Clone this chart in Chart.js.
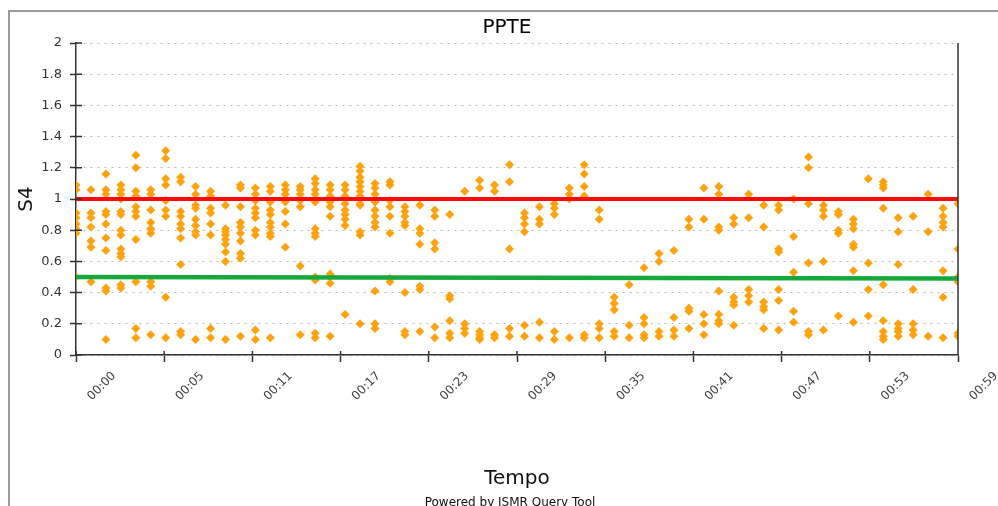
<!DOCTYPE html>
<html lang="pt">
<head>
    <meta charset="UTF-8">
    <title>PPTE - S4</title>
    <script src="https://cdn.jsdelivr.net/npm/chart.js"></script>
    <style>
        body {
            margin: 0;
            background: #fff;
            font-family: "DejaVu Sans", sans-serif;
        }

        .wrap {
            position: relative;
            width: 998px;
            height: 506px;
            overflow: hidden;
        }

        /* grey frame round the chart, cut by the window on the right and bottom */
        .frame {
            position: absolute;
            left: 8px;
            top: 10px;
            width: 1100px;
            height: 600px;
            border-top: 2px solid #9a9a9a;
            border-left: 2px solid #9a9a9a;
        }

        .title {
            position: absolute;
            top: 14px;
            left: 0;
            width: 1014px;
            text-align: center;
            font-size: 20px;
            color: #000;
        }

        .powered {
            position: absolute;
            top: 495px;
            left: 0;
            width: 1020px;
            text-align: center;
            font-size: 12px;
            color: #111;
        }

        canvas {
            position: absolute;
            left: 0;
            top: 0;
        }
    </style>
</head>
<body>
    <div class="wrap">
        <div class="frame"></div>
        <canvas id="s4Chart" width="998" height="506"></canvas>
        <div class="title">PPTE</div>
        <div class="powered">Powered by ISMR Query Tool</div>
    </div>

    <script>
        // x tick labels (hh:mm)
        const tickLabels = ['00:00', '00:05', '00:11', '00:17', '00:23', '00:29', '00:35', '00:41', '00:47', '00:53', '00:59'];
        const tickStep = 5.9; // minutes between labels

        // S4 readings, one list per minute (index = minute)
        const s4PerMinute = [
            [1.09, 1.06, 0.91, 0.88, 0.84, 0.81, 0.78, 0.5],
            [1.06, 0.91, 0.88, 0.82, 0.73, 0.69, 0.47],
            [1.16, 1.06, 1.03, 0.92, 0.9, 0.84, 0.75, 0.67, 0.43, 0.41, 0.1],
            [1.09, 1.06, 1.03, 1.0, 0.92, 0.9, 0.8, 0.77, 0.68, 0.65, 0.63, 0.45, 0.43],
            [1.28, 1.2, 1.05, 1.02, 0.95, 0.92, 0.89, 0.74, 0.47, 0.17, 0.11],
            [1.06, 1.03, 0.93, 0.85, 0.81, 0.78, 0.47, 0.44, 0.13],
            [1.31, 1.26, 1.13, 1.09, 0.99, 0.93, 0.89, 0.37, 0.11],
            [1.14, 1.11, 0.92, 0.89, 0.84, 0.81, 0.75, 0.58, 0.15, 0.13],
            [1.08, 1.03, 0.96, 0.94, 0.87, 0.83, 0.79, 0.77, 0.1],
            [1.05, 1.02, 0.94, 0.91, 0.84, 0.77, 0.17, 0.11],
            [0.96, 0.81, 0.79, 0.77, 0.74, 0.71, 0.66, 0.6, 0.1],
            [1.09, 1.07, 0.95, 0.85, 0.82, 0.78, 0.73, 0.65, 0.62, 0.12],
            [1.07, 1.03, 0.99, 0.94, 0.91, 0.88, 0.8, 0.77, 0.16, 0.1],
            [1.08, 1.05, 0.98, 0.93, 0.9, 0.85, 0.82, 0.78, 0.76, 0.11],
            [1.09, 1.06, 1.03, 0.98, 0.92, 0.84, 0.69],
            [1.08, 1.06, 1.03, 0.99, 0.95, 0.57, 0.13],
            [1.13, 1.1, 1.06, 1.03, 0.98, 0.81, 0.78, 0.76, 0.5, 0.48, 0.14, 0.11],
            [1.09, 1.06, 1.02, 0.98, 0.95, 0.89, 0.52, 0.5, 0.46, 0.12],
            [1.09, 1.06, 1.02, 0.97, 0.93, 0.9, 0.87, 0.83, 0.26],
            [1.21, 1.18, 1.14, 1.11, 1.08, 1.05, 1.02, 0.97, 0.96, 0.79, 0.77, 0.2],
            [1.1, 1.07, 1.03, 0.98, 0.93, 0.89, 0.85, 0.82, 0.41, 0.2, 0.17],
            [1.11, 1.09, 0.99, 0.95, 0.89, 0.78, 0.49, 0.47],
            [0.95, 0.92, 0.89, 0.85, 0.83, 0.4, 0.15, 0.13],
            [0.96, 0.81, 0.78, 0.71, 0.44, 0.42, 0.15],
            [0.93, 0.89, 0.72, 0.68, 0.18, 0.11],
            [0.9, 0.38, 0.36, 0.22, 0.14, 0.11],
            [1.05, 0.2, 0.17, 0.14],
            [1.12, 1.07, 0.15, 0.13, 0.11, 0.1],
            [1.09, 1.05, 0.13, 0.11],
            [1.22, 1.11, 0.68, 0.17, 0.12],
            [0.91, 0.88, 0.84, 0.79, 0.19, 0.12],
            [0.95, 0.87, 0.84, 0.21, 0.11],
            [0.97, 0.94, 0.9, 0.15, 0.1],
            [1.07, 1.03, 1.0, 0.11],
            [1.22, 1.16, 1.08, 1.02, 0.13, 0.11],
            [0.93, 0.87, 0.2, 0.17, 0.11],
            [0.37, 0.33, 0.29, 0.15, 0.12],
            [0.45, 0.19, 0.11],
            [0.56, 0.24, 0.2, 0.13, 0.11],
            [0.65, 0.6, 0.15, 0.12],
            [0.67, 0.24, 0.16, 0.12],
            [0.87, 0.82, 0.3, 0.28, 0.17],
            [1.07, 0.87, 0.26, 0.2, 0.13],
            [1.08, 1.03, 0.82, 0.8, 0.41, 0.26, 0.22, 0.2],
            [0.88, 0.84, 0.37, 0.34, 0.32, 0.19],
            [1.03, 0.88, 0.42, 0.38, 0.34],
            [0.96, 0.82, 0.34, 0.31, 0.29, 0.17],
            [0.96, 0.93, 0.68, 0.66, 0.42, 0.35, 0.16],
            [1.0, 0.76, 0.53, 0.28, 0.21],
            [1.27, 1.2, 0.97, 0.59, 0.15, 0.13],
            [0.96, 0.93, 0.89, 0.6, 0.16],
            [0.92, 0.9, 0.8, 0.78, 0.25],
            [0.87, 0.84, 0.81, 0.71, 0.69, 0.54, 0.21],
            [1.13, 0.59, 0.42, 0.25],
            [1.11, 1.09, 1.07, 0.94, 0.45, 0.22, 0.15, 0.12, 0.1],
            [0.88, 0.79, 0.58, 0.2, 0.17, 0.15, 0.12],
            [0.89, 0.42, 0.2, 0.16, 0.13],
            [1.03, 0.79, 0.12],
            [0.94, 0.89, 0.85, 0.82, 0.54, 0.37, 0.11],
            [0.97, 0.68, 0.5, 0.47, 0.14, 0.12]
        ];

        // reference lines, start and end of the hour
        const redLine = [1.0, 1.0];
        const greenLine = [0.5, 0.49];
        const lastMinute = 59;

        const scatterPoints = [];
        s4PerMinute.forEach((vals, minute) => {
            vals.forEach(v => scatterPoints.push({ x: minute, y: v }));
        });

        // right border of the plot + inner half of the tick marks
        const axisExtras = {
            id: 'axisExtras',
            afterDraw(chart) {
                const { ctx, chartArea, scales } = chart;
                ctx.save();
                ctx.strokeStyle = '#333';
                ctx.lineWidth = 1.5;
                ctx.beginPath();
                ctx.moveTo(chartArea.right, chartArea.top);
                ctx.lineTo(chartArea.right, chartArea.bottom);
                scales.y.ticks.forEach(t => {
                    const py = scales.y.getPixelForValue(t.value);
                    ctx.moveTo(chartArea.left, py);
                    ctx.lineTo(chartArea.left + 6, py);
                });
                scales.x.ticks.forEach(t => {
                    const px = scales.x.getPixelForValue(t.value);
                    ctx.moveTo(px, chartArea.bottom);
                    ctx.lineTo(px, chartArea.bottom - 4);
                });
                ctx.stroke();
                ctx.restore();
            }
        };

        new Chart(document.getElementById('s4Chart'), {
            type: 'scatter',
            data: {
                datasets: [
                    {
                        type: 'line',
                        data: [{ x: 0, y: redLine[0] }, { x: lastMinute, y: redLine[1] }],
                        borderColor: '#ff0a0a',
                        borderWidth: 4,
                        pointRadius: 0,
                        fill: false
                    },
                    {
                        type: 'line',
                        data: [{ x: 0, y: greenLine[0] }, { x: lastMinute, y: greenLine[1] }],
                        borderColor: '#16a83a',
                        borderWidth: 4.5,
                        pointRadius: 0,
                        fill: false
                    },
                    {
                        data: scatterPoints,
                        pointStyle: 'rectRot',
                        pointRadius: 4.5,
                        backgroundColor: '#ffa20d',
                        borderColor: '#ffa20d',
                        borderWidth: 0
                    }
                ]
            },
            options: {
                responsive: false,
                animation: false,
                layout: {
                    padding: { top: 43, right: 40, left: 0, bottom: 0 }
                },
                plugins: {
                    legend: { display: false },
                    tooltip: { enabled: false }
                },
                scales: {
                    x: {
                        type: 'linear',
                        min: 0,
                        max: lastMinute,
                        afterBuildTicks: (scale) => {
                            scale.ticks = tickLabels.map((_, i) => ({ value: i * tickStep }));
                        },
                        afterFit: (scale) => { scale.height = 151; },
                        border: { color: '#333', width: 1.5 },
                        grid: {
                            drawOnChartArea: false,
                            tickLength: 7,
                            tickColor: '#333',
                            tickWidth: 1.5
                        },
                        ticks: {
                            autoSkip: false,
                            minRotation: 45,
                            maxRotation: 45,
                            labelOffset: 38,
                            padding: 7,
                            color: '#444',
                            font: { family: 'DejaVu Sans', size: 12 },
                            callback: (value, index) => tickLabels[index]
                        },
                        title: {
                            display: true,
                            text: 'Tempo',
                            color: '#111',
                            font: { family: 'DejaVu Sans', size: 20 },
                            padding: { top: 0, bottom: 15 }
                        }
                    },
                    y: {
                        min: 0,
                        max: 2,
                        afterFit: (scale) => { scale.width = 76; },
                        border: { color: '#333', width: 1.5, dash: [2, 5] },
                        grid: {
                            color: '#b8b8b8',
                            tickBorderDash: [],
                            tickColor: '#333',
                            tickWidth: 1.5,
                            tickLength: 6,
                            drawTicks: true
                        },
                        ticks: {
                            stepSize: 0.2,
                            padding: 8,
                            color: '#333',
                            font: { family: 'DejaVu Sans', size: 13 },
                            callback: (v) => Math.round(v * 10) / 10
                        },
                        title: {
                            display: true,
                            text: 'S4',
                            color: '#111',
                            font: { family: 'DejaVu Sans', size: 20 },
                            padding: { top: 15, bottom: 0 }
                        }
                    }
                }
            },
            plugins: [axisExtras]
        });
    </script>
</body>
</html>
